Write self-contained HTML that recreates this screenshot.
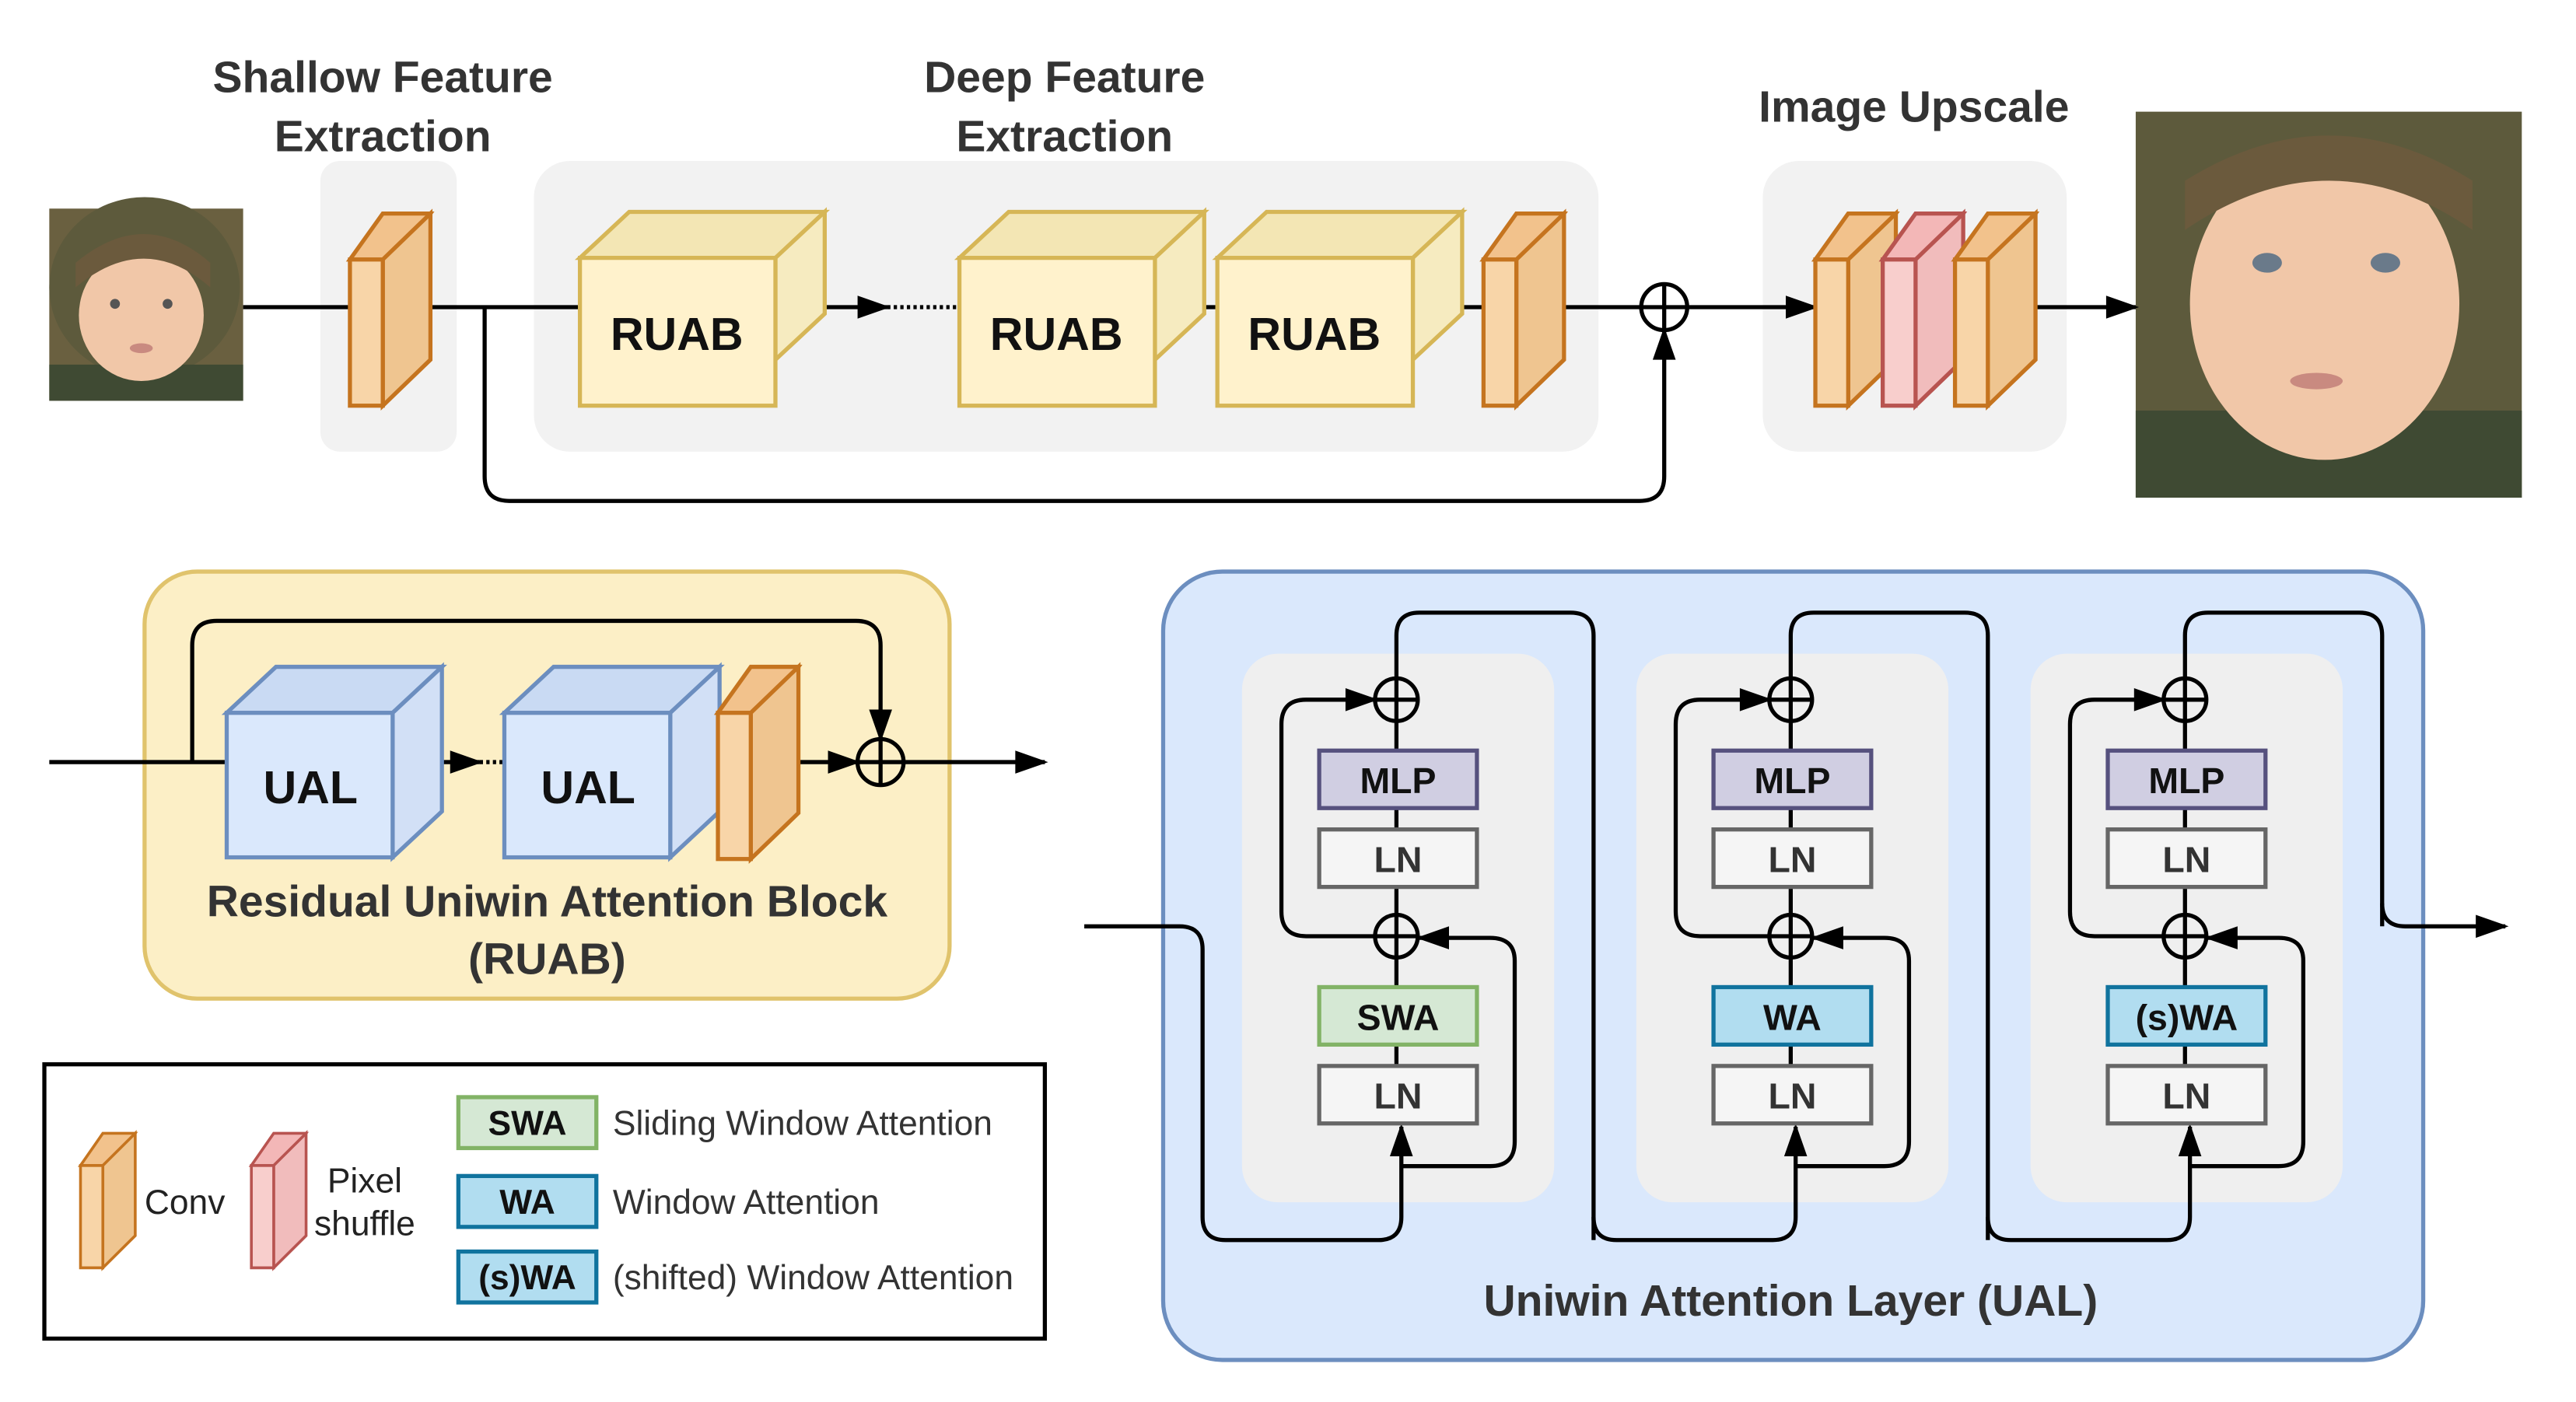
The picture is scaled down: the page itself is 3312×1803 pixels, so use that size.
<!DOCTYPE html>
<html><head><meta charset="utf-8"><style>
html,body{margin:0;padding:0;background:#fff;}
svg{display:block;}
text{font-family:"Liberation Sans",Arial,sans-serif;}
</style></head><body>
<svg width="3312" height="1803" viewBox="0 0 1568 853.6" preserveAspectRatio="none" xmlns="http://www.w3.org/2000/svg">
<defs>
<marker id="ab" viewBox="0 0 10 10" refX="9" refY="5" markerWidth="24" markerHeight="20" markerUnits="userSpaceOnUse" orient="auto"><path d="M0,1.5 L10,5 L0,8.5 z" fill="#000"/></marker>
<g id="conv">
<polygon points="0,28 20,0 49,0 29,28" fill="#f2c28c" stroke="#c5741f" stroke-width="2.5"/>
<polygon points="20,28 49,0 49,89 20,117" fill="#efc590" stroke="#c5741f" stroke-width="2.5"/>
<rect x="0" y="28" width="20" height="89" fill="#f8d5a8" stroke="#c5741f" stroke-width="2.5"/>
</g>
<g id="pix">
<polygon points="0,28 20,0 49,0 29,28" fill="#f3b7b7" stroke="#b85450" stroke-width="2.5"/>
<polygon points="20,28 49,0 49,89 20,117" fill="#f1bcbc" stroke="#b85450" stroke-width="2.5"/>
<rect x="0" y="28" width="20" height="89" fill="#f8cecc" stroke="#b85450" stroke-width="2.5"/>
</g>
<g id="ruab">
<polygon points="0,28 30,0 149,0 119,28" fill="#f3e6b4" stroke="#d6b656" stroke-width="2.5"/>
<polygon points="119,28 149,0 149,62 119,90" fill="#f6ebc0" stroke="#d6b656" stroke-width="2.5"/>
<rect x="0" y="28" width="119" height="90" fill="#fff2cc" stroke="#d6b656" stroke-width="2.5"/>
<text x="59" y="84" font-size="28" font-weight="bold" text-anchor="middle" fill="#111">RUAB</text>
</g>
<g id="ual">
<polygon points="0,28 30,0 131,0 101,28" fill="#c9daf3" stroke="#6c8ebf" stroke-width="2.5"/>
<polygon points="101,28 131,0 131,88 101,116" fill="#d2e0f6" stroke="#6c8ebf" stroke-width="2.5"/>
<rect x="0" y="28" width="101" height="88" fill="#dae8fc" stroke="#6c8ebf" stroke-width="2.5"/>
<text x="51" y="83" font-size="28" font-weight="bold" text-anchor="middle" fill="#111">UAL</text>
</g>
</defs>

<!-- faces -->
<g>
<rect x="30" y="127" width="118" height="117" fill="#6a6040"/>
<ellipse cx="88" cy="175" rx="58" ry="55" fill="#5d5a3c"/>
<rect x="30" y="222" width="118" height="22" fill="#3f4a33"/>
<ellipse cx="86" cy="192" rx="38" ry="40" fill="#f1c7a8"/>
<path d="M46,175 Q88,140 128,175 L128,160 Q88,125 46,160 z" fill="#6b5a3d"/>
<circle cx="70" cy="185" r="3" fill="#555"/><circle cx="102" cy="185" r="3" fill="#555"/>
<ellipse cx="86" cy="212" rx="7" ry="3" fill="#c98a80"/>
</g>
<g>
<rect x="1300" y="68" width="235" height="235" fill="#5d5a3c"/>
<rect x="1300" y="250" width="235" height="53" fill="#3f4a33"/>
<ellipse cx="1415" cy="185" rx="82" ry="95" fill="#f1c7a8"/>
<path d="M1330,140 Q1418,80 1505,140 L1505,110 Q1418,55 1330,110 z" fill="#6b5a3d"/>
<ellipse cx="1380" cy="160" rx="9" ry="6" fill="#6a7a8a"/><ellipse cx="1452" cy="160" rx="9" ry="6" fill="#6a7a8a"/>
<ellipse cx="1410" cy="232" rx="16" ry="5" fill="#c98a80"/>
</g>

<!-- top panels -->
<rect x="195" y="98" width="83" height="177" rx="12" fill="#f2f2f2"/>
<rect x="325" y="98" width="648" height="177" rx="22" fill="#f2f2f2"/>
<rect x="1073" y="98" width="185" height="177" rx="22" fill="#f2f2f2"/>
<g font-size="27" font-weight="bold" fill="#333" text-anchor="middle">
<text x="233" y="56">Shallow Feature</text><text x="233" y="92">Extraction</text>
<text x="648" y="56">Deep Feature</text><text x="648" y="92">Extraction</text>
<text x="1165" y="74">Image Upscale</text>
</g>

<!-- top lines -->
<g stroke="#000" stroke-width="2.5" fill="none">
<line x1="148" y1="187" x2="213" y2="187"/>
<line x1="250" y1="187" x2="353" y2="187"/>
<line x1="490" y1="187" x2="540" y2="187" marker-end="url(#ab)"/>
<line x1="540" y1="187" x2="582" y2="187" stroke-dasharray="2,2"/>
<line x1="705" y1="187" x2="741" y2="187"/>
<line x1="875" y1="187" x2="903" y2="187"/>
<line x1="940" y1="187" x2="999" y2="187"/>
<line x1="1027" y1="187" x2="1105" y2="187" marker-end="url(#ab)"/>
<line x1="1140" y1="187" x2="1146" y2="187"/>
<line x1="1180" y1="187" x2="1190" y2="187"/>
<line x1="1225" y1="187" x2="1300" y2="187" marker-end="url(#ab)"/>
<path d="M295,187 L295,290 Q295,305 310,305 L998,305 Q1013,305 1013,290 L1013,201" marker-end="url(#ab)"/>
<circle cx="1013" cy="187" r="14"/>
<line x1="999" y1="187" x2="1027" y2="187"/><line x1="1013" y1="173" x2="1013" y2="201"/>
</g>
<use href="#conv" x="213" y="130"/>
<use href="#ruab" x="353" y="129"/>
<use href="#ruab" x="584" y="129"/>
<use href="#ruab" x="741" y="129"/>
<use href="#conv" x="903" y="130"/>
<use href="#conv" x="1105" y="130"/>
<use href="#pix" x="1146" y="130"/>
<use href="#conv" x="1190" y="130"/>

<!-- RUAB detail -->
<rect x="88" y="348" width="490" height="260" rx="32" fill="#fcefc6" stroke="#e0c36c" stroke-width="2.5"/>
<g stroke="#000" stroke-width="2.5" fill="none">
<line x1="30" y1="464" x2="138" y2="464"/>
<path d="M117,464 L117,393 Q117,378 132,378 L521,378 Q536,378 536,393 L536,450" marker-end="url(#ab)"/>
<line x1="253" y1="464" x2="292" y2="464" marker-end="url(#ab)"/>
<line x1="292" y1="464" x2="307" y2="464" stroke-dasharray="2,2"/>
<line x1="425" y1="464" x2="437" y2="464"/>
<line x1="470" y1="464" x2="522" y2="464" marker-end="url(#ab)"/>
<line x1="550" y1="464" x2="636" y2="464" marker-end="url(#ab)"/>
<circle cx="536" cy="464" r="14"/>
<line x1="522" y1="464" x2="550" y2="464"/><line x1="536" y1="450" x2="536" y2="478"/>
</g>
<use href="#ual" x="138" y="406"/>
<use href="#ual" x="307" y="406"/>
<use href="#conv" x="437" y="406"/>
<g font-size="27" font-weight="bold" fill="#333" text-anchor="middle">
<text x="333" y="558">Residual Uniwin Attention Block</text>
<text x="333" y="593">(RUAB)</text>
</g>

<!-- legend -->
<rect x="27" y="648" width="609" height="167" fill="#fff" stroke="#000" stroke-width="2.5"/>
<g transform="translate(49,690) scale(0.68,0.7)"><use href="#conv"/></g>
<g transform="translate(153,690) scale(0.68,0.7)"><use href="#pix"/></g>
<g font-size="21" fill="#222">
<text x="88" y="739">Conv</text>
<text x="222" y="726" text-anchor="middle">Pixel</text>
<text x="222" y="752" text-anchor="middle">shuffle</text>
<text x="373" y="691" fill="#333">Sliding Window Attention</text>
<text x="373" y="739" fill="#333">Window Attention</text>
<text x="373" y="785" fill="#333">(shifted) Window Attention</text>
</g>
<rect x="279" y="668" width="84" height="31" fill="#d5e8d4" stroke="#82b366" stroke-width="2.5"/>
<rect x="279" y="716" width="84" height="31" fill="#b1ddf0" stroke="#10739e" stroke-width="2.5"/>
<rect x="279" y="762" width="84" height="31" fill="#b1ddf0" stroke="#10739e" stroke-width="2.5"/>
<g font-size="21" font-weight="bold" fill="#111" text-anchor="middle">
<text x="321" y="691">SWA</text><text x="321" y="739">WA</text><text x="321" y="785">(s)WA</text>
</g>

<!-- UAL -->
<rect x="708" y="348" width="767" height="480" rx="36" fill="#dae8fc" stroke="#6c8ebf" stroke-width="2.5"/>
<rect x="756" y="398" width="190" height="334" rx="22" fill="#efefef"/>
<rect x="996" y="398" width="190" height="334" rx="22" fill="#efefef"/>
<rect x="1236" y="398" width="190" height="334" rx="22" fill="#efefef"/>
<text x="1090" y="801" font-size="27" font-weight="bold" fill="#333" text-anchor="middle">Uniwin Attention Layer (UAL)</text>

<g stroke="#000" stroke-width="2.5" fill="none">
<path d="M660,564 L718,564 Q732,564 732,578 L732,741 Q732,755 746,755 L839,755 Q853,755 853,741 L853,686" marker-end="url(#ab)"/>
<path d="M970,755 L970,387 Q970,373 956,373 L864,373 Q850,373 850,387 L850,413"/>
<path d="M970,741 Q970,755 984,755 L1079,755 Q1093,755 1093,741 L1093,686" marker-end="url(#ab)"/>
<path d="M1210,755 L1210,387 Q1210,373 1196,373 L1104,373 Q1090,373 1090,387 L1090,413"/>
<path d="M1210,741 Q1210,755 1224,755 L1319,755 Q1333,755 1333,741 L1333,686" marker-end="url(#ab)"/>
<path d="M1450,564 L1450,387 Q1450,373 1436,373 L1344,373 Q1330,373 1330,387 L1330,413"/>
<path d="M1450,550 Q1450,564 1464,564 L1525,564" marker-end="url(#ab)"/>
</g>

<!-- columns -->
<g id="col1">
<g stroke="#000" stroke-width="2.5" fill="none">
<line x1="850" y1="439" x2="850" y2="457"/>
<line x1="850" y1="492" x2="850" y2="505"/>
<line x1="850" y1="540" x2="850" y2="557"/>
<line x1="850" y1="583" x2="850" y2="601"/>
<line x1="850" y1="636" x2="850" y2="649"/>
<path d="M853,710 L907,710 Q922,710 922,695 L922,585 Q922,571 907,571 L864,571" marker-end="url(#ab)"/>
<path d="M837,570 L795,570 Q780,570 780,555 L780,441 Q780,426 795,426 L837,426" marker-end="url(#ab)"/>
<circle cx="850" cy="426" r="13"/><line x1="837" y1="426" x2="863" y2="426"/><line x1="850" y1="413" x2="850" y2="439"/>
<circle cx="850" cy="570" r="13"/><line x1="837" y1="570" x2="863" y2="570"/><line x1="850" y1="557" x2="850" y2="583"/>
</g>
<rect x="803" y="457" width="96" height="35" fill="#d0cee2" stroke="#56517e" stroke-width="2.5"/>
<rect x="803" y="505" width="96" height="35" fill="#f5f5f5" stroke="#666" stroke-width="2.5"/>
<rect x="803" y="649" width="96" height="35" fill="#f5f5f5" stroke="#666" stroke-width="2.5"/>
<g font-size="22" font-weight="bold" text-anchor="middle">
<text x="851" y="483" fill="#111">MLP</text>
<text x="851" y="531" fill="#333">LN</text>
<text x="851" y="675" fill="#333">LN</text>
</g>
</g>
<use href="#col1" x="240"/>
<use href="#col1" x="480"/>
<rect x="803" y="601" width="96" height="35" fill="#d5e8d4" stroke="#82b366" stroke-width="2.5"/>
<rect x="1043" y="601" width="96" height="35" fill="#b1ddf0" stroke="#10739e" stroke-width="2.5"/>
<rect x="1283" y="601" width="96" height="35" fill="#b1ddf0" stroke="#10739e" stroke-width="2.5"/>
<g font-size="22" font-weight="bold" text-anchor="middle" fill="#111">
<text x="851" y="627">SWA</text><text x="1091" y="627">WA</text><text x="1331" y="627">(s)WA</text>
</g>
</svg>
</body></html>
